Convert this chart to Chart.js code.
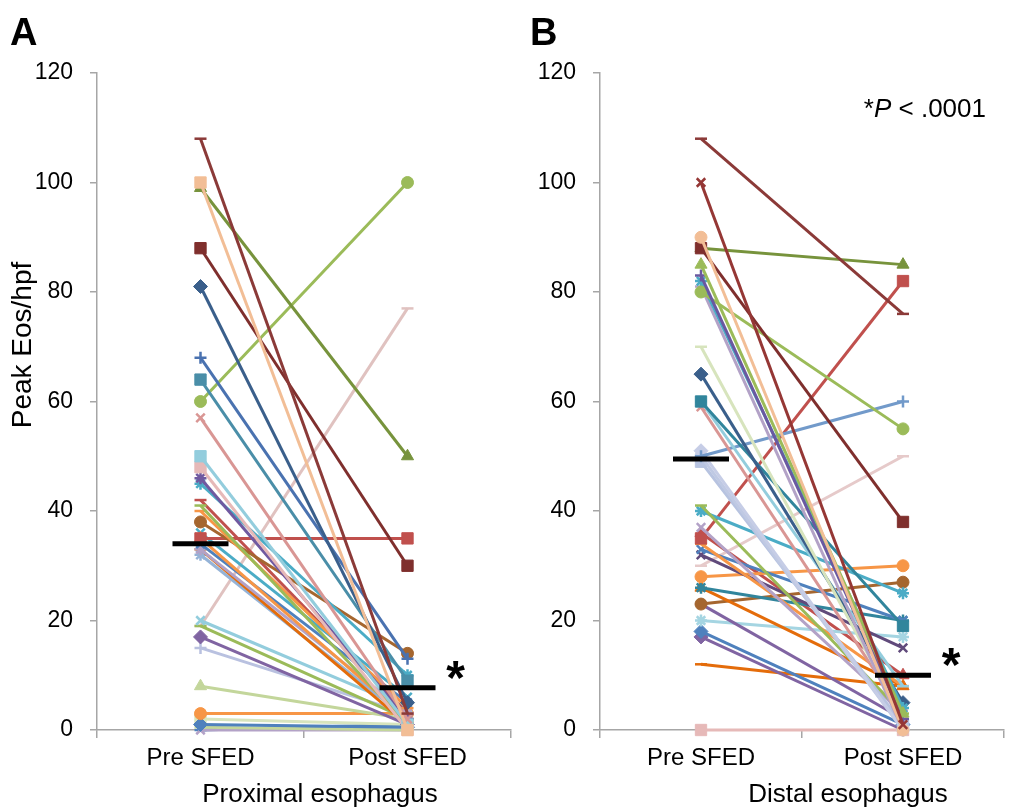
<!DOCTYPE html>
<html>
<head>
<meta charset="utf-8">
<script src="https://cdn.jsdelivr.net/npm/chart.js@4.4.1/dist/chart.umd.min.js"></script>
<style>
  body { margin: 0; background: #fff; width: 1013px; height: 808px; position: relative; overflow: hidden; }
  canvas { position: absolute; top: 0; }
  #chartA { left: 0; }
  #chartB { left: 500px; }
</style>
</head>
<body>
<canvas id="chartA" width="520" height="808"></canvas>
<canvas id="chartB" width="513" height="808"></canvas>
<script>
const categories = ['Pre SFED', 'Post SFED'];
const yTickValues = [0, 20, 40, 60, 80, 100, 120];

// Proximal esophagus: one value per patient, before and after the diet
const proxPre  = [108, 100, 99, 88, 81, 68, 64, 60, 57, 50, 48, 46, 45, 41, 40, 38, 35, 35, 34, 33, 33, 32, 36, 42, 20, 19, 19, 17, 15, 8, 3, 1, 0.5, 0, 2, 0];
const proxPost = [3, 0, 50, 30, 5, 13, 9, 100, 2, 1, 0, 2, 10, 1, 4, 14, 35, 2, 5, 3, 1, 2, 6, 3, 4, 2, 77, 1, 3, 2, 3, 0.5, 0, 0, 1, 1];
const proxMedian = [34, 7.7];

// Distal esophagus
const distPre  = [108, 100, 90, 88, 88, 85, 83, 80, 82, 81, 70, 65, 60, 59, 60, 50, 51, 50, 49, 41, 40, 37, 35, 34, 33, 32, 30, 28, 26, 26, 23, 23, 20, 18, 17, 12, 0, 36];
const distPost = [76, 1, 0, 38, 85, 3, 2, 55, 4, 0, 2, 5, 19, 3, 8, 60, 0, 0, 1, 3, 25, 3, 82, 8, 20, 15, 50, 30, 20, 8, 27, 2, 17, 1, 0, 8, 0, 10];
const distMedian = [49.5, 10];

// series colours and Excel-like markers
const proxColors = ['#8B3A38', '#F2BE96', '#77933C', '#7F2F2D', '#3A5F8B', '#4A72B0', '#4A8EA8', '#9BBB59', '#D99694', '#93CDDD',
  '#E6B9B8', '#7059A0', '#4BACC6', '#9BBB59', '#F79646', '#A5662F', '#C0504D', '#F79646', '#4F81BD', '#B3A2C7',
  '#E46C0A', '#95B3D7', '#4BACC6', '#C0504D', '#93CDDD', '#9BBB59', '#E0C2C0', '#8064A2', '#B9C1E0', '#C3D69B',
  '#F79646', '#4F81BD', '#C3D69B', '#B3A2C7', '#D7E4BD', '#4F81BD'];
const proxMarkers = ['line', 'rect', 'triangle', 'rect', 'rectRot', 'cross', 'rect', 'circle', 'crossRot', 'rect',
  'rect', 'star', 'star', 'line', 'line', 'circle', 'rect', 'triangle', 'crossRot', 'star',
  'line', 'star', 'crossRot', 'line', 'crossRot', 'line', 'line', 'rectRot', 'cross', 'triangle',
  'circle', 'rectRot', 'line', 'crossRot', 'rect', 'line'];

const distColors = ['#8B3A38', '#953735', '#F2BE96', '#7F2F2D', '#77933C', '#9BBB59', '#6A58A0', '#9BBB59', '#4BACC6', '#B3A2C7',
  '#D7E4BD', '#3A5F8B', '#31859C', '#D99694', '#93CDDD', '#729ACA', '#C6CDE6', '#BFC9E3', '#B7C3E0', '#9BBB59',
  '#4BACC6', '#B3A2C7', '#C0504D', '#F79646', '#4F81BD', '#604A7B', '#E6CACA', '#F79646', '#31859C', '#E46C0A',
  '#A5662F', '#8064A2', '#A5D5E2', '#4F81BD', '#8064A2', '#E46C0A', '#E6B9B8', '#C0504D'];
const distMarkers = ['line', 'crossRot', 'circle', 'rect', 'triangle', 'triangle', 'cross', 'circle', 'star', 'line',
  'line', 'rectRot', 'rect', 'crossRot', 'line', 'cross', 'rectRot', 'circle', 'rect', 'line',
  'star', 'crossRot', 'rect', 'line', 'crossRot', 'crossRot', 'line', 'circle', 'star', 'triangle',
  'circle', 'line', 'star', 'rectRot', 'rectRot', 'line', 'rect', 'triangle'];

const FONT = "'Liberation Sans', Arial, Helvetica, sans-serif";
const AXIS_GREY = '#A6A6A6';
const markerRadius = { rect: 8, rectRot: 7, triangle: 7, circle: 6, crossRot: 6, star: 6, cross: 6, line: 6 };

// medians, asterisk and the loose texts of each panel
const panelDecor = {
  id: 'panelDecor',
  afterDatasetsDraw(chart, args, opts) {
    const ctx = chart.ctx;
    const xs = chart.scales.x, ys = chart.scales.y;
    ctx.save();
    ctx.strokeStyle = '#000';
    ctx.lineWidth = 5;
    opts.median.forEach((m, i) => {
      const x = xs.getPixelForValue(i), y = ys.getPixelForValue(m);
      ctx.beginPath();
      ctx.moveTo(x - 28, y);
      ctx.lineTo(x + 28, y);
      ctx.stroke();
    });
    // significance star next to the post median
    ctx.fillStyle = '#000';
    ctx.font = `bold 48px ${FONT}`;
    ctx.textAlign = 'center';
    ctx.textBaseline = 'alphabetic';
    ctx.fillText('*', xs.getPixelForValue(1) + 48, ys.getPixelForValue(opts.median[1]) + 6);
    ctx.restore();
  },
  afterDraw(chart, args, opts) {
    const ctx = chart.ctx;
    const area = chart.chartArea;
    ctx.save();
    ctx.fillStyle = '#000';
    ctx.font = `bold 38px ${FONT}`;
    ctx.textAlign = 'left';
    ctx.textBaseline = 'alphabetic';
    ctx.fillText(opts.letter, opts.letterX, 45);

    ctx.font = `26px ${FONT}`;
    ctx.textAlign = 'center';
    ctx.fillText(opts.xTitle, opts.xTitleX, 802);

    if (opts.yTitle) {
      ctx.font = `28px ${FONT}`;
      ctx.translate(23, 345);
      ctx.rotate(-Math.PI / 2);
      ctx.textBaseline = 'middle';
      ctx.fillText(opts.yTitle, 0, 0);
      ctx.setTransform(1, 0, 0, 1, 0, 0);
    }
    if (opts.pText) {
      // "*P < .0001" with an italic P
      ctx.textAlign = 'left';
      ctx.textBaseline = 'alphabetic';
      const parts = [['*', ''], ['P', 'italic '], [' < .0001', '']];
      let w = 0;
      parts.forEach(p => { ctx.font = `${p[1]}26px ${FONT}`; w += ctx.measureText(p[0]).width; });
      let x = area.right - 18 - w;
      parts.forEach(p => {
        ctx.font = `${p[1]}26px ${FONT}`;
        ctx.fillText(p[0], x, 117);
        x += ctx.measureText(p[0]).width;
      });
    }
    ctx.restore();
  }
};

function buildPanel(canvasId, pre, post, colors, markers, median, yAxisWidth, rightPad, decor) {
  const datasets = pre.map((v, i) => ({
    data: [v, post[i]],
    borderColor: colors[i],
    backgroundColor: colors[i],
    borderWidth: 3,
    pointStyle: markers[i],
    pointRadius: markerRadius[markers[i]],
    pointBorderWidth: ['rect', 'rectRot', 'triangle', 'circle'].includes(markers[i]) ? 1 : 2.5,
    pointBackgroundColor: colors[i],
    pointBorderColor: colors[i],
    clip: false
  }));

  return new Chart(document.getElementById(canvasId), {
    type: 'line',
    data: { labels: categories, datasets },
    plugins: [panelDecor],
    options: {
      responsive: false,
      animation: false,
      events: [],
      layout: { padding: { top: 73, right: rightPad, bottom: 0, left: 0 } },
      plugins: {
        legend: { display: false },
        tooltip: { enabled: false },
        panelDecor: Object.assign({ median }, decor)
      },
      scales: {
        x: {
          type: 'category',
          offset: true,
          grid: { offset: true, drawOnChartArea: false, tickLength: 8, color: AXIS_GREY, lineWidth: 1.5 },
          border: { color: AXIS_GREY, width: 1.5 },
          ticks: { color: '#000', font: { family: FONT, size: 24 }, padding: 6, maxRotation: 0 },
          afterFit: s => { s.height = 78; }
        },
        y: {
          min: 0,
          max: 120,
          afterBuildTicks: a => { a.ticks = yTickValues.map(v => ({ value: v })); },
          grid: { drawOnChartArea: false, tickLength: 7, color: AXIS_GREY, lineWidth: 1.5 },
          border: { color: AXIS_GREY, width: 1.5 },
          ticks: { color: '#000', font: { family: FONT, size: 23 }, padding: 17 },
          afterFit: s => { s.width = yAxisWidth; }
        }
      }
    }
  });
}

buildPanel('chartA', proxPre, proxPost, proxColors, proxMarkers, proxMedian, 97, 7,
  { letter: 'A', letterX: 10, xTitle: 'Proximal esophagus', xTitleX: 320, yTitle: 'Peak Eos/hpf' });
buildPanel('chartB', distPre, distPost, distColors, distMarkers, distMedian, 100, 0,
  { letter: 'B', letterX: 30, xTitle: 'Distal esophagus', xTitleX: 348, pText: true });
</script>
</body>
</html>
